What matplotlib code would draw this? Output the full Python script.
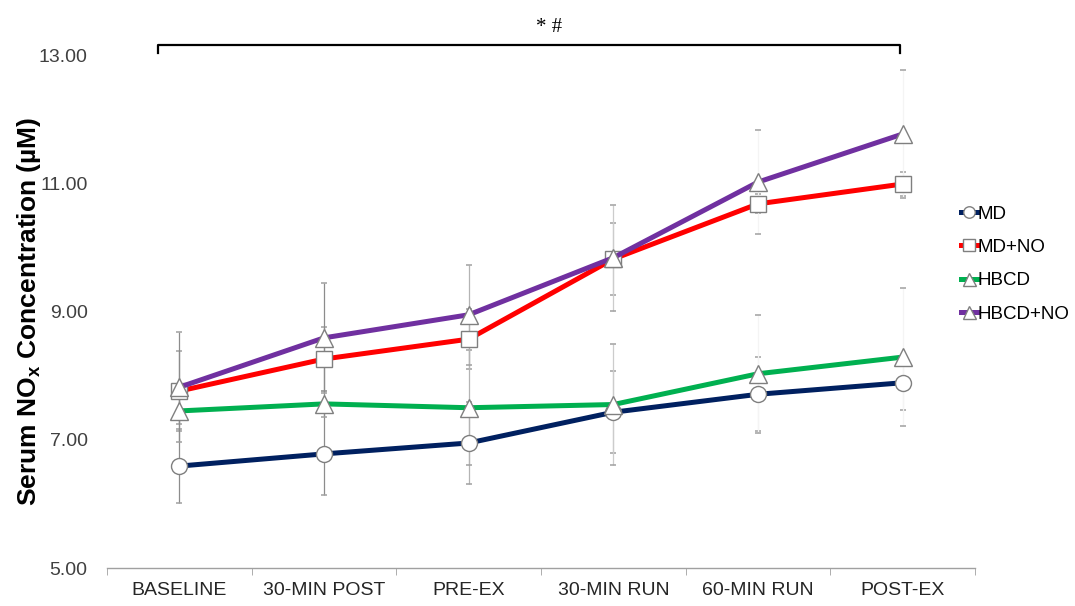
import matplotlib
matplotlib.use("Agg")
import matplotlib.pyplot as plt
from matplotlib.lines import Line2D

plt.rcParams['font.family'] = ['Liberation Sans', 'DejaVu Sans']

# Time points and group means / SDs (serum NOx, µM)
timepoints = ["BASELINE", "30-MIN POST", "PRE-EX", "30-MIN RUN", "60-MIN RUN", "POST-EX"]
groups = ["MD", "MD+NO", "HBCD", "HBCD+NO"]

md_mean = [6.59, 6.78, 6.95, 7.43, 7.71, 7.89]
mdno_mean = [7.76, 8.26, 8.57, 9.82, 10.68, 10.99]
hbcd_mean = [7.45, 7.56, 7.50, 7.55, 8.03, 8.29]
hbcdno_mean = [7.82, 8.59, 8.95, 9.84, 11.02, 11.77]

md_sd = [0.58, 0.64, 0.64, 0.64, 0.58, 0.42]
mdno_sd = [0.62, 0.50, 0.47, 0.56, 0.15, 0.18]
hbcd_sd = [0.20, 0.20, 0.90, 0.94, 0.92, 1.08]
hbcdno_sd = [0.86, 0.86, 0.78, 0.83, 0.81, 1.00]

yticks = [5.0, 7.0, 9.0, 11.0, 13.0]
sig_label = "* #"

means = [md_mean, mdno_mean, hbcd_mean, hbcdno_mean]
sds = [md_sd, mdno_sd, hbcd_sd, hbcdno_sd]
colors = ["#002060", "#FF0000", "#00B050", "#7030A0"]
markers = ["o", "s", "^", "^"]
msizes = [11.5, 12, 13, 13]

fig = plt.figure(figsize=(10.75, 6.06), dpi=100)
ax = fig.add_axes([0.0995, 0.0627, 0.8075, 0.8463])

x = list(range(len(timepoints)))
bar_colors = ["#8c8c8c", "#8c8c8c", "#b4b4b4", "#cccccc", "#f4f4f4", "#f4f4f4"]

handles = []
for i, (m, s, c, mk, ms) in enumerate(zip(means, sds, colors, markers, msizes)):
    eb = ax.errorbar(x, m, yerr=s, fmt="none", ecolor="#a0a0a0", elinewidth=0.9,
                     capsize=2.2, capthick=1.1, zorder=2 + i * 0.01)
    for col in eb[2]:
        col.set_color(bar_colors)
    for cap in eb[1]:
        cap.set_color("#505050")
    ax.plot(x, m, color=c, lw=3.6, zorder=3 + i, solid_capstyle="butt")
    ax.plot(x, m, linestyle="none", marker=mk, markersize=ms, markerfacecolor="white",
            markeredgecolor="#7f7f7f", markeredgewidth=1.0, zorder=3.5 + i)
    handles.append(Line2D([0], [0], color=c, lw=3.6, marker=mk, markersize=ms * 0.72,
                          markerfacecolor="white", markeredgecolor="#7f7f7f",
                          markeredgewidth=1.0))

ax.set_xlim(-0.5, 5.5)
ax.set_ylim(5.0, 13.0)
ax.set_yticks(yticks)
ax.set_yticklabels([f"{v:.2f}" for v in yticks], fontsize=14, color="#404040")
ax.tick_params(axis="y", length=0, pad=14)

ax.set_xticks(x)
ax.set_xticklabels(timepoints, fontsize=14, color="#262626")
ax.set_xticks([v - 0.5 for v in range(len(timepoints) + 1)], minor=True)
ax.tick_params(axis="x", which="major", length=0, pad=10)
ax.tick_params(axis="x", which="minor", length=5, color="#a0a0a0", direction="out")

for side in ["top", "right", "left"]:
    ax.spines[side].set_visible(False)
ax.spines["bottom"].set_color("#a0a0a0")
ax.spines["bottom"].set_linewidth(1.0)

ax.set_ylabel("Serum NO$_\\mathregular{x}$ Concentration (µM)", fontsize=19,
              fontweight="bold")
ax.yaxis.set_label_coords(-0.074, 0.5)

# Significance bracket spanning all time points
bx0, bx1, btop, bbot = -0.15, 4.98, 13.16, 13.03
ax.plot([bx0, bx0, bx1, bx1], [bbot, btop, btop, bbot], color="black", lw=1.6,
        clip_on=False, zorder=10)
ax.text((bx0 + bx1) / 2 + 0.14, btop + 0.12, sig_label, ha="center", va="bottom",
        fontsize=15, family="Liberation Serif", clip_on=False)

fig.legend(handles, groups, loc="upper left", bbox_to_anchor=(0.887, 0.673),
           frameon=False, fontsize=13.5, handlelength=0.85, handletextpad=0.05,
           labelspacing=0.86, borderaxespad=0)

fig.savefig("out.png", dpi=100)
